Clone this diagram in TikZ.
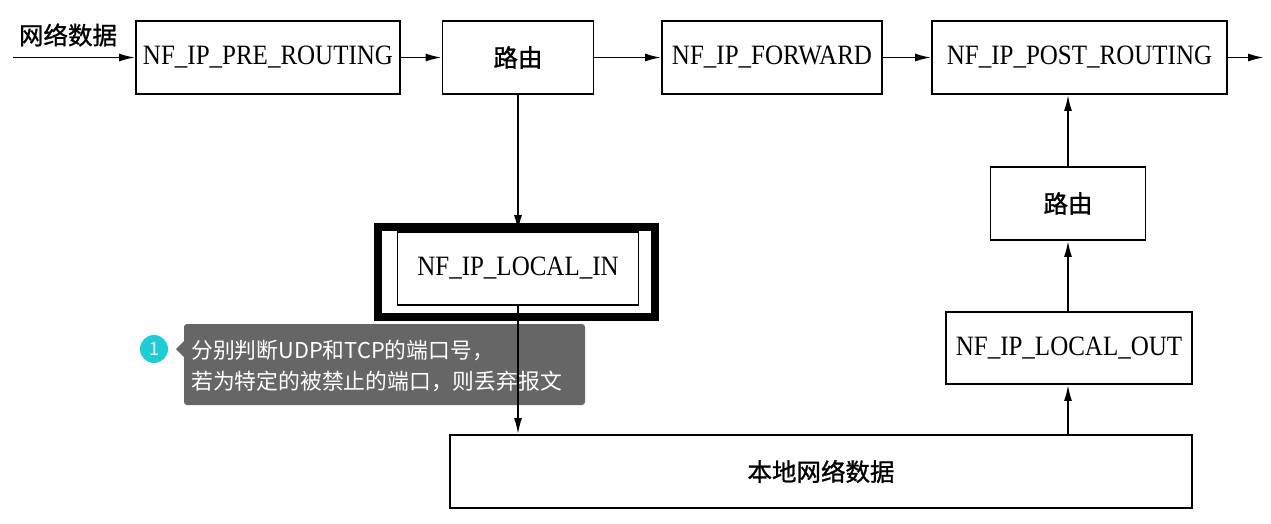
\documentclass[tikz,border=0pt]{standalone}
\usepackage{fontspec}
\setmainfont{Liberation Serif}
\newfontfamily\cjk{Noto Sans CJK SC}
\newfontfamily\cjkmid[FakeBold=1.2]{Noto Sans CJK SC}
\usetikzlibrary{arrows.meta}
\definecolor{tipgray}{HTML}{666666}
\definecolor{badge}{RGB}{30,205,212}
% hook names are set slightly taller than the plain serif
\newcommand\hooklabel[1]{\scalebox{1}[1.12]{#1}}
\begin{document}
\begin{tikzpicture}[x=1pt,y=-1pt,
  hook/.style={draw, line width=1.8pt, minimum height=73pt, inner sep=0pt,
               font=\fontsize{25}{30}\selectfont},
  zh/.style={font=\cjkmid\fontsize{24.5}{30}\selectfont},
  flow/.style={line width=1.8pt, -{Latex[length=16pt,width=8pt]}},
  notetext/.style={anchor=west, inner sep=0pt, text=white,
                   font=\cjk\fontsize{21.8}{26}\selectfont}]
\useasboundingbox (0,0) rectangle (1271,523);

% annotation bubble
\fill[tipgray, rounded corners=3pt] (184,324) rectangle (585,405);
\fill[tipgray] (176,349) -- (185,340) -- (185,358) -- cycle;
\node[circle, fill=badge, minimum size=28pt, inner sep=0pt, text=white,
      font=\cjk\fontsize{18}{20}\selectfont] (num) at (154,349) {1};
\node[notetext] (note1) at (191,350) {分别判断UDP和TCP的端口号，};
\node[notetext] (note2) at (191,381) {若为特定的被禁止的端口，则丢弃报文};

% hook points and routing
\node[hook, minimum width=264pt] (pre)  at (268,57.5)   {\hooklabel{NF\_IP\_PRE\_ROUTING}};
\node[hook, zh, minimum width=151pt] (r1) at (518,57.5) {路由};
\node[hook, minimum width=220pt] (fwd)  at (772,57.5)   {\hooklabel{NF\_IP\_FORWARD}};
\node[hook, minimum width=295pt] (post) at (1079.5,57.5) {\hooklabel{NF\_IP\_POST\_ROUTING}};
\node[hook, zh, minimum width=155pt] (r2) at (1068,203.5) {路由};
\node[hook, minimum width=246pt, minimum height=72pt] (lout) at (1069,348) {\hooklabel{NF\_IP\_LOCAL\_OUT}};
\node[hook, minimum width=241pt] (lin)  at (518,268.5)  {\hooklabel{NF\_IP\_LOCAL\_IN}};
\node[draw, line width=8pt, minimum width=277pt, minimum height=90pt, inner sep=0pt]
      (focus) at (516,271.5) {};
\node[hook, zh, minimum width=742pt] (local) at (821,471.5) {本地网络数据};

% incoming and outgoing packets
\coordinate (src) at (13,57.5);
\coordinate (dst) at (1264,57.5);
\node[zh, anchor=south] (inlabel) at (68,50) {网络数据};

\draw[flow] (src) -- (pre);
\draw[flow] (pre) -- (r1);
\draw[flow] (r1) -- (fwd);
\draw[flow] (fwd) -- (post);
\draw[flow] (post) -- (dst);
\draw[flow] (r1.south) -- (lin.north);
\draw[flow] (lin.south) -- (lin.south |- local.north);
\draw[flow] (r2.south |- local.north) -- (r2.south |- lout.south);
\draw[flow] (r2.south |- lout.north) -- (r2.south);
\draw[flow] (r2.north) -- (r2.north |- post.south);
\end{tikzpicture}
\end{document}
